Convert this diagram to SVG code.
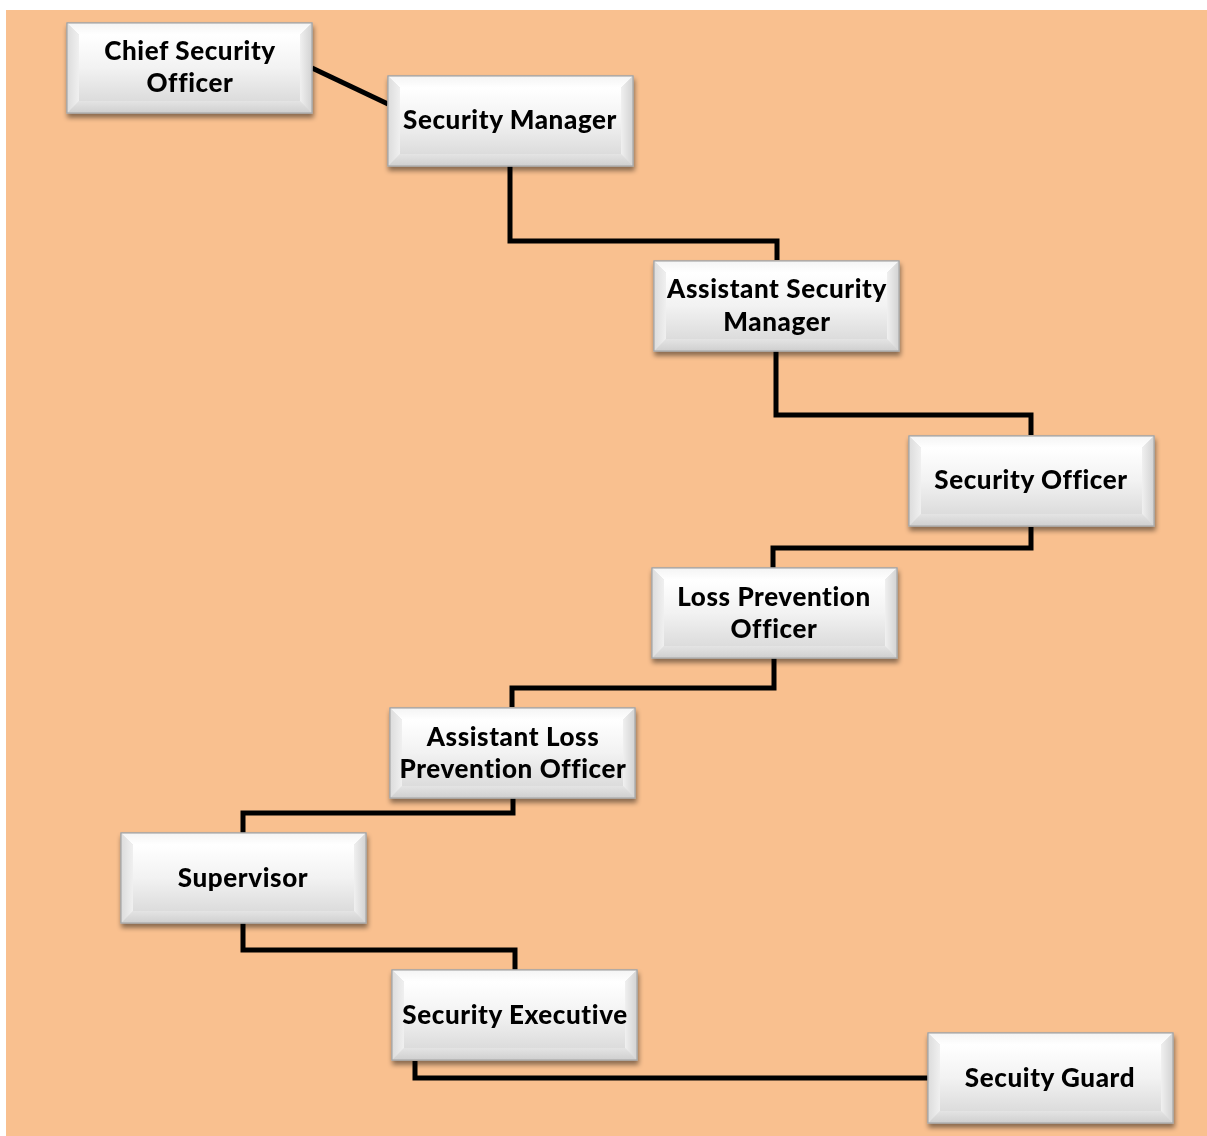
<svg xmlns="http://www.w3.org/2000/svg" width="1207" height="1136" viewBox="0 0 1207 1136">
<defs>
<linearGradient id="face" x1="0" y1="0" x2="0" y2="1">
<stop offset="0" stop-color="#ffffff"/><stop offset="0.5" stop-color="#f2f2f2"/><stop offset="1" stop-color="#dcdcdc"/>
</linearGradient>
<linearGradient id="topB" x1="0" y1="0" x2="0" y2="1">
<stop offset="0" stop-color="#f4f4f4"/><stop offset="1" stop-color="#ffffff"/>
</linearGradient>
<linearGradient id="botB" x1="0" y1="0" x2="0" y2="1">
<stop offset="0" stop-color="#e4e4e4"/><stop offset="1" stop-color="#cfcfcf"/>
</linearGradient>
<linearGradient id="leftB" x1="0" y1="0" x2="1" y2="0">
<stop offset="0" stop-color="#dcdcdc"/><stop offset="1" stop-color="#f0f0f0"/>
</linearGradient>
<linearGradient id="rightB" x1="0" y1="0" x2="1" y2="0">
<stop offset="0" stop-color="#f0f0f0"/><stop offset="1" stop-color="#d2d2d2"/>
</linearGradient>
<filter id="sh" x="-10%" y="-10%" width="125%" height="135%">
<feGaussianBlur in="SourceAlpha" stdDeviation="2.5"/>
<feOffset dx="1" dy="4" result="b"/>
<feComponentTransfer><feFuncA type="linear" slope="0.45"/></feComponentTransfer>
<feMerge><feMergeNode/><feMergeNode in="SourceGraphic"/></feMerge>
</filter>
<g id="box">
<rect x="0" y="0" width="245" height="90" fill="#d8d8d8" stroke="#a8a8a8" stroke-width="1.2"/>
<polygon points="0,0 245,0 233,12 12,12" fill="url(#topB)"/>
<polygon points="0,90 245,90 233,78 12,78" fill="url(#botB)"/>
<polygon points="0,0 12,12 12,78 0,90" fill="url(#leftB)"/>
<polygon points="245,0 233,12 233,78 245,90" fill="url(#rightB)"/>
<rect x="12" y="12" width="221" height="66" fill="url(#face)"/>
<rect x="0" y="0" width="245" height="90" fill="none" stroke="#a8a8a8" stroke-width="1.2"/>
</g>
</defs>
<style>
.lbl{font-family:"Lato","Open Sans","Liberation Sans",sans-serif;font-weight:900;font-size:26px;letter-spacing:0.6px;fill:#000;text-anchor:middle}
.conn{fill:none;stroke:#000;stroke-width:5;stroke-linejoin:miter}
</style>
<rect x="6" y="10" width="1201" height="1126" fill="#F9C08F"/>
<g id="connectors">
<line class="conn" x1="312" y1="68" x2="388" y2="104"/>
<polyline class="conn" points="510,166 510,241 777,241 777,260"/>
<polyline class="conn" points="776,351 776,415 1031,415 1031,435"/>
<polyline class="conn" points="1031,527 1031,548 773,548 773,568"/>
<polyline class="conn" points="774,658 774,688 512,688 512,707"/>
<polyline class="conn" points="513,798 513,813 243,813 243,833"/>
<polyline class="conn" points="243,923 243,950 515,950 515,970"/>
<polyline class="conn" points="415,1061 415,1078 928,1078"/>
</g>
<g id="n1" filter="url(#sh)"><use href="#box" x="67" y="23"/><text class="lbl" x="190" y="60">Chief Security</text><text class="lbl" x="190" y="92">Officer</text></g>
<g id="n2" filter="url(#sh)"><use href="#box" x="388" y="76"/><text class="lbl" x="510" y="129">Security Manager</text></g>
<g id="n3" filter="url(#sh)"><use href="#box" x="654" y="261"/><text class="lbl" x="777" y="298">Assistant Security</text><text class="lbl" x="777" y="331">Manager</text></g>
<g id="n4" filter="url(#sh)"><use href="#box" x="909" y="436"/><text class="lbl" x="1031" y="489">Security Officer</text></g>
<g id="n5" filter="url(#sh)"><use href="#box" x="652" y="568"/><text class="lbl" x="774" y="606">Loss Prevention</text><text class="lbl" x="774" y="638">Officer</text></g>
<g id="n6" filter="url(#sh)"><use href="#box" x="390" y="708"/><text class="lbl" x="513" y="746">Assistant Loss</text><text class="lbl" x="513" y="778">Prevention Officer</text></g>
<g id="n7" filter="url(#sh)"><use href="#box" x="121" y="833"/><text class="lbl" x="243" y="887">Supervisor</text></g>
<g id="n8" filter="url(#sh)"><use href="#box" x="392" y="970"/><text class="lbl" x="515" y="1024">Security Executive</text></g>
<g id="n9" filter="url(#sh)"><use href="#box" x="928" y="1033"/><text class="lbl" x="1050" y="1087">Secuity Guard</text></g>
</svg>
